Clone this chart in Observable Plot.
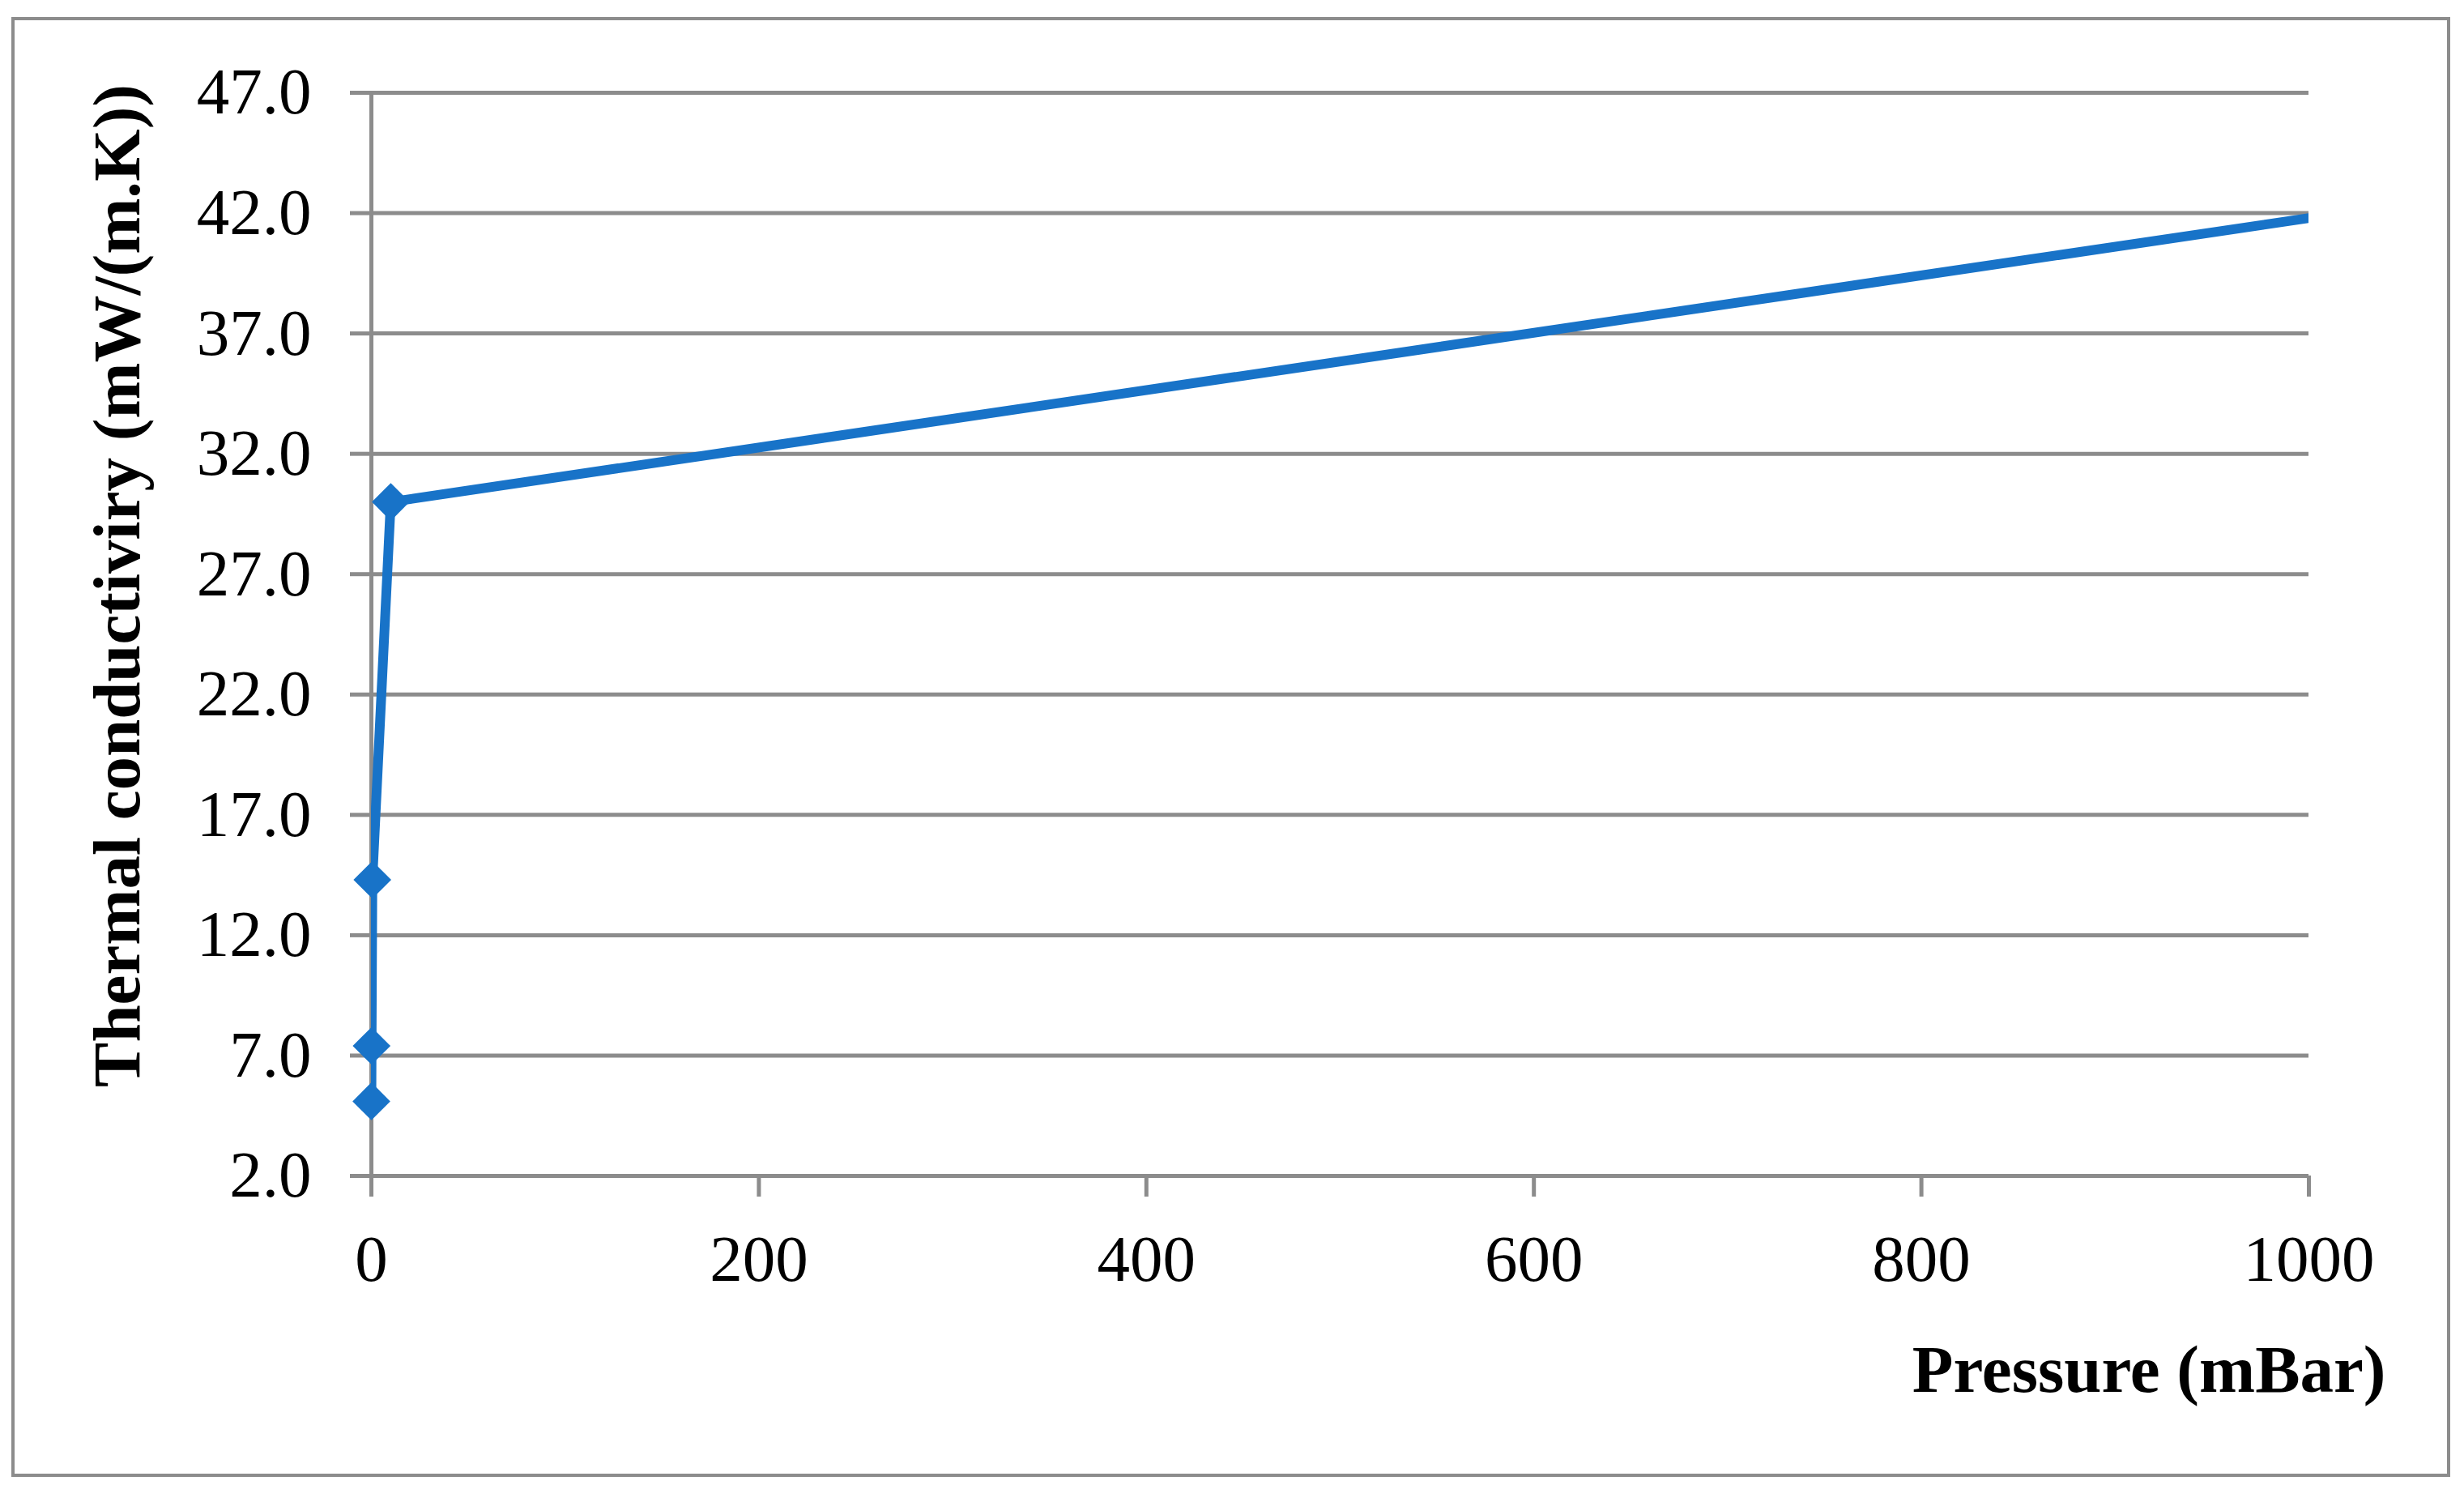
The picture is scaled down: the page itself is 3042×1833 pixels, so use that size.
<!DOCTYPE html>
<html>
<head>
<meta charset="utf-8">
<script src="https://cdn.jsdelivr.net/npm/d3@7"></script>
<script src="https://cdn.jsdelivr.net/npm/@observablehq/plot@0.6"></script>
<style>
  html, body { margin: 0; padding: 0; background: #fff; }
  #wrap { position: relative; width: 3042px; height: 1833px; }
  #border { position: absolute; left: 14px; top: 21px; width: 3003px; height: 1794px;
            border: 4px solid #8c8c8c; pointer-events: none; }
  #chart { position: absolute; left: 0; top: 0; }
</style>
</head>
<body>
<div id="wrap"><div id="border"></div><div id="chart"></div></div>
<script>
// Data
const pressure = [0, 0.1, 0.5, 10, 1013];         // mBar
const conductivity = [5.1, 7.4, 14.3, 30.0, 41.95]; // mW/(m.K)
const yTicks = [2, 7, 12, 17, 22, 27, 32, 37, 42, 47];
const xTicks = [0, 200, 400, 600, 800, 1000];
const xLabel = "Pressure (mBar)";
const yLabel = "Thermal conductiviry (mW/(m.K))";

const data = pressure.map((p, i) => ({p, k: conductivity[i]}));
const blue = "#1873c8";
const gray = "#8c8c8c";

const chart = Plot.plot({
  width: 3042,
  height: 1833,
  marginLeft: 458,
  marginRight: 192,
  marginTop: 114,
  marginBottom: 382,
  style: {fontFamily: "'Liberation Serif', 'Times New Roman', serif", fontSize: "81px", background: "transparent", color: "black"},
  x: {domain: [0, 1000]},
  y: {domain: [2, 47]},
  marks: [
    Plot.gridY(yTicks, {stroke: gray, strokeOpacity: 1, strokeWidth: 5}),
    Plot.ruleX([0], {y1: 2, y2: 47, stroke: gray, strokeWidth: 5}),
    Plot.axisY(yTicks, {tickSize: 26, tickPadding: 48, tickFormat: d3.format(".1f"), stroke: gray, strokeWidth: 5, fill: "black", label: null}),
    Plot.axisX(xTicks, {tickSize: 26, tickPadding: 46, tickFormat: d => String(d), stroke: gray, strokeWidth: 5, fill: "black", label: null}),
    Plot.line(data, {x: "p", y: "k", stroke: blue, strokeWidth: 12, strokeLinejoin: "miter", clip: true}),
    Plot.dot(data, {filter: d => d.p <= 1000, x: "p", y: "k", symbol: "diamond2", r: 21, fill: blue, stroke: "none"}),
    Plot.text([yLabel], {text: d => d, frameAnchor: "left", textAnchor: "middle", rotate: -90, dx: -313, dy: -60, fontWeight: "bold", fontSize: 83, fill: "black"}),
    Plot.text([xLabel], {text: d => d, frameAnchor: "bottom-right", textAnchor: "end", dx: 95, dy: 266, fontWeight: "bold", fontSize: 83, fill: "black"})
  ]
});
document.getElementById("chart").appendChild(chart);
</script>
</body>
</html>
